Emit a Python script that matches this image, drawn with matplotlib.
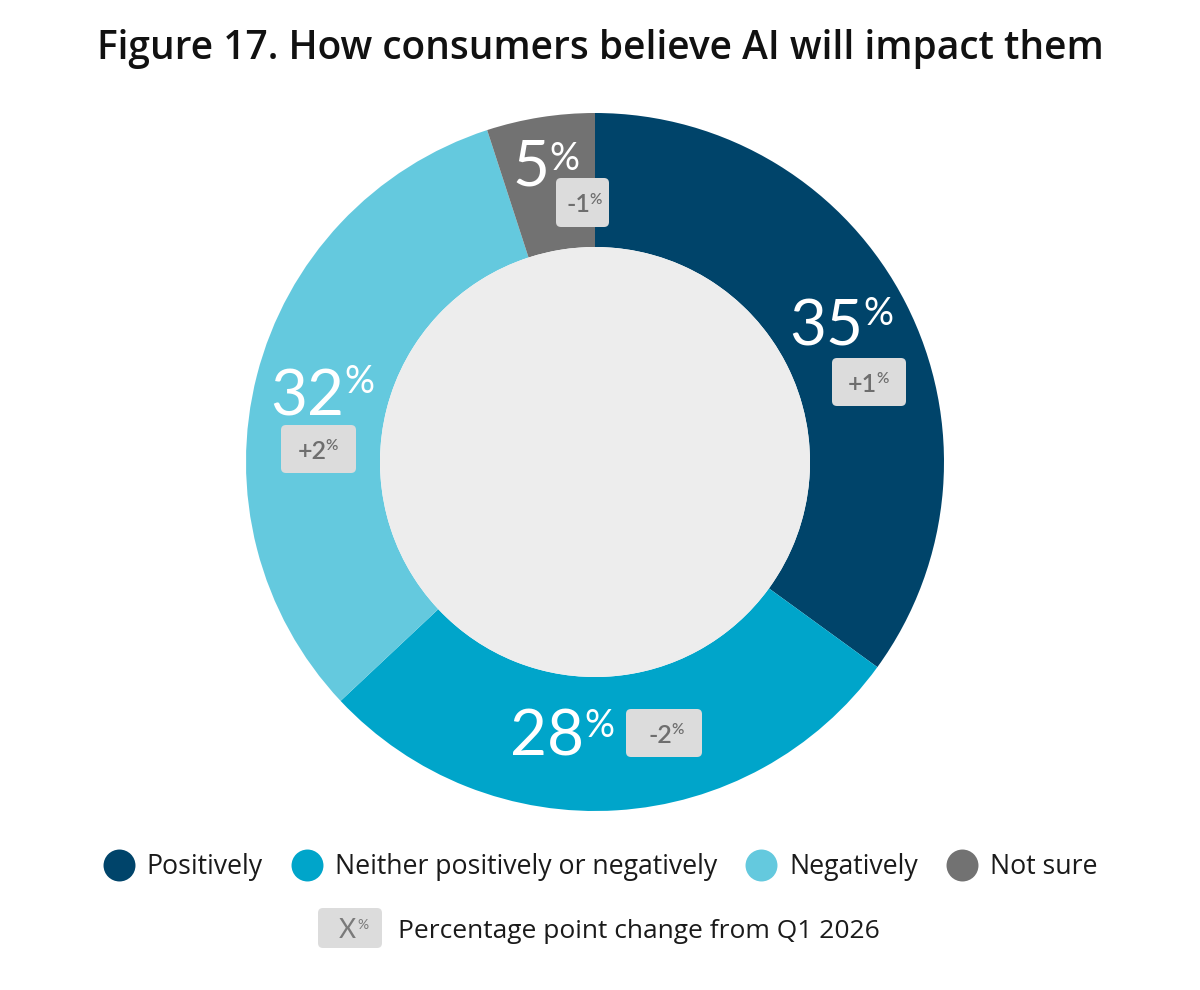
import matplotlib.pyplot as plt
from matplotlib.patches import FancyBboxPatch
from matplotlib.lines import Line2D

# Data
categories = ['Positively', 'Neither positively or negatively', 'Negatively', 'Not sure']
shares = [35, 28, 32, 5]
changes = ['+1', '-2', '+2', '-1']

colors = ['#00446a', '#00a5ca', '#64c9de', '#727272']
badge_color = '#dcdcdc'
badge_text = '#6e6e6e'
ink = '#1a1a1a'

plt.rcParams['font.family'] = ['Lato', 'DejaVu Sans']
text_font = ['Open Sans', 'DejaVu Sans']

fig = plt.figure(figsize=(12, 9.9), dpi=100)

# overlay axes in pixel coordinates for the texts
ov = fig.add_axes([0, 0, 1, 1])
ov.set_xlim(0, 1200)
ov.set_ylim(990, 0)
ov.axis('off')
ov.set_zorder(2)

# donut
cx, cy, r = 595, 462, 349
ax = fig.add_axes([(cx - r) / 1200, (990 - cy - r) / 990, 2 * r / 1200, 2 * r / 990])
ax.pie(shares, colors=colors, startangle=90, counterclock=False, radius=1,
       wedgeprops=dict(width=134 / 349, linewidth=0), frame=True)
ax.pie([1], colors=['#ededed'], radius=215 / 349, wedgeprops=dict(linewidth=0), frame=True)
ax.set_xlim(-1, 1)
ax.set_ylim(-1, 1)
ax.axis('off')

# title
ov.text(600, 59, 'Figure 17. How consumers believe AI will impact them', ha='center',
        va='baseline', fontsize=28, fontweight='semibold', color='#111111',
        family=text_font)


def sup_text(x, y_main, y_sup, main, size_main, size_sup, color, weight='normal', gap=1):
    ov.text(x, y_main, main, ha='right', va='baseline', fontsize=size_main,
            color=color, fontweight=weight)
    ov.text(x + gap, y_sup, '%', ha='left', va='baseline', fontsize=size_sup,
            color=color, fontweight=weight)


def badge(x0, y0, w, h, label):
    ov.add_patch(FancyBboxPatch((x0, y0), w, h, boxstyle='round,pad=0,rounding_size=5',
                                fc=badge_color, ec='none'))
    mx = x0 + w / 2 + 8
    my = y0 + h / 2
    sup_text(mx, my + 10, my + 1, label, 18, 11, badge_text, 'semibold', gap=-1)


# slice labels: split x, main baseline, % baseline
label_pos = [(863, 345, 325), (584, 755, 737), (344, 415, 393), (549, 185, 170)]
badge_pos = [(832, 358, 74, 48), (626, 709, 76, 48), (281, 425, 75, 48), (556, 178, 53, 49)]

for val, chg, lp, bp in zip(shares, changes, label_pos, badge_pos):
    sup_text(lp[0], lp[1], lp[2], str(val), 46, 27, 'white', gap=0)
    badge(*bp, chg)

# legend row 1
handles = [Line2D([], [], marker='o', ls='none', markersize=23, mfc=c, mec='none')
           for c in colors]
ov.legend(handles, categories, loc='center', bbox_to_anchor=(600, 867),
          bbox_transform=ov.transData, ncol=4, frameon=False,
          prop=dict(family=text_font, size=19.2),
          handlelength=1.2, handletextpad=0.45, columnspacing=1.05, labelcolor=ink)

# legend row 2
ov.add_patch(FancyBboxPatch((318, 908), 64, 40, boxstyle='round,pad=0,rounding_size=5',
                            fc=badge_color, ec='none'))
sup_text(356, 938, 929, 'X', 19, 10, '#7a7a7a')
ov.text(398, 938, 'Percentage point change from Q1 2026', ha='left', va='baseline',
        fontsize=19, color=ink, family=text_font)

fig.savefig('out.png', dpi=100)
